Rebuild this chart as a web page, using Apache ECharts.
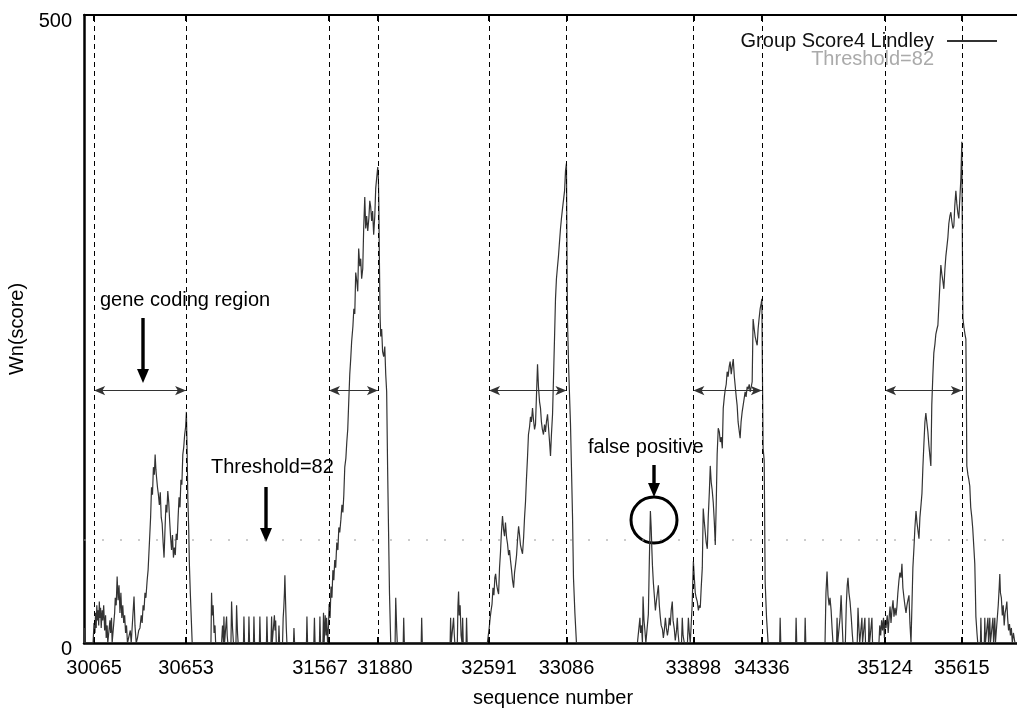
<!DOCTYPE html>
<html>
<head>
<meta charset="utf-8">
<script src="https://cdn.jsdelivr.net/npm/echarts@6/dist/echarts.min.js"></script>
<style>
  html, body { margin: 0; padding: 0; background: #fff; }
  #main { width: 1017px; height: 709px; }
</style>
</head>
<body>
<div id="main"></div>
<script>
// tick positions on the sequence axis (start / end of each coding region)
const tickSeq = [30065, 30653, 31567, 31880, 32591, 33086, 33898, 34336, 35124, 35615];
const threshold = 82;
const arrowLevel = 201;

// Lindley score trace
const trace1 = [[30000,0],[30004,12],[30008,0],[30058,0],[30064,16],[30070,8],[30074,24],[30078,12],[30082,30],[30086,18],[30090,26],[30094,14],[30098,33],[30102,20],[30106,28],[30110,12],[30116,26],[30120,18],[30126,30],[30132,10],[30138,22],[30142,4],[30148,14],[30152,0],[30160,0],[30166,18],[30170,8],[30176,20],[30180,0],[30190,0],[30196,24],[30200,36],[30206,30],[30212,53],[30218,34],[30224,46],[30230,24],[30236,40],[30242,20],[30248,30],[30254,16],[30260,22],[30266,8],[30272,14],[30278,0],[30290,0],[30296,10],[30302,0],[30314,0],[30320,37],[30326,14],[30334,0],[30342,4],[30350,10],[30358,12],[30366,22],[30372,16],[30378,30],[30384,26],[30390,40],[30396,36],[30404,50],[30410,58],[30416,57],[30420,84],[30426,100],[30432,124],[30438,118],[30444,140],[30450,134],[30455,150],[30460,138],[30464,132],[30470,124],[30476,118],[30482,110],[30488,120],[30494,100],[30500,95],[30506,80],[30512,68],[30518,90],[30524,110],[30530,104],[30536,121],[30542,112],[30548,97],[30554,84],[30560,74],[30566,86],[30572,68],[30578,76],[30584,70],[30590,87],[30596,82],[30602,100],[30608,116],[30614,108],[30620,130],[30626,126],[30632,150],[30638,156],[30644,166],[30650,172],[30655,184],[30660,150],[30664,116],[30670,90],[30674,63],[30680,40],[30686,20],[30692,0]];
const trace2 = [[30760,0],[30812,0],[30816,40],[30820,22],[30826,30],[30832,8],[30838,14],[30842,0],[30880,0],[30886,14],[30892,0],[30895,21],[30899,0],[30908,0],[30912,21],[30916,6],[30920,0],[30940,0],[30944,33],[30950,12],[30956,0],[30972,0],[30976,30],[30982,8],[30986,0],[31020,0],[31023,21],[31027,0],[31052,0],[31055,21],[31059,0],[31084,0],[31087,21],[31091,0],[31122,0],[31125,21],[31129,0],[31167,0],[31170,21],[31174,0],[31196,0],[31200,21],[31204,0],[31215,0],[31218,22],[31222,10],[31226,18],[31230,0],[31244,0],[31247,14],[31251,0],[31270,0],[31274,20],[31278,28],[31282,40],[31285,54],[31290,30],[31294,12],[31298,0],[31340,0],[31343,12],[31347,0],[31423,0],[31426,21],[31430,0],[31470,0],[31474,20],[31478,0],[31506,0],[31509,21],[31513,0],[31520,0]];
const trace3 = [[31528,0],[31532,24],[31536,0],[31540,0],[31543,22],[31548,6],[31552,20],[31558,0],[31564,14],[31568,31],[31574,20],[31580,45],[31586,36],[31592,58],[31598,50],[31604,66],[31610,60],[31617,80],[31624,74],[31630,92],[31636,88],[31643,98],[31650,110],[31656,104],[31662,118],[31668,140],[31675,147],[31681,160],[31687,170],[31694,194],[31700,214],[31706,226],[31712,240],[31720,252],[31726,266],[31732,262],[31738,295],[31745,288],[31751,280],[31757,314],[31764,300],[31770,306],[31776,290],[31783,298],[31789,330],[31796,355],[31802,330],[31808,340],[31815,328],[31822,338],[31828,352],[31834,347],[31840,336],[31846,344],[31853,325],[31860,340],[31866,362],[31872,370],[31879,379],[31883,370],[31886,349],[31890,300],[31894,260],[31898,244],[31904,250],[31910,232],[31917,228],[31924,236],[31930,214],[31936,200],[31942,140],[31948,90],[31954,40],[31962,0]];
const trace4 = [[31990,0],[31994,36],[32000,12],[32004,0],[32042,0],[32045,20],[32049,0],[32157,0],[32160,20],[32164,0],[32342,0],[32345,20],[32349,0],[32360,0],[32364,20],[32368,8],[32372,0],[32388,0],[32392,30],[32396,41],[32400,22],[32406,30],[32412,6],[32418,0],[32422,20],[32426,0],[32444,0],[32447,20],[32451,0],[32580,0]];
const trace5 = [[32586,0],[32592,12],[32598,20],[32604,26],[32610,31],[32616,44],[32622,38],[32628,52],[32633,55],[32640,46],[32646,42],[32652,39],[32658,60],[32664,72],[32670,88],[32677,101],[32684,90],[32690,85],[32696,96],[32703,84],[32709,79],[32716,70],[32722,74],[32728,66],[32735,58],[32741,50],[32748,44],[32754,56],[32760,62],[32767,70],[32774,84],[32780,93],[32786,86],[32792,78],[32799,74],[32805,71],[32812,84],[32818,100],[32824,112],[32830,130],[32837,148],[32843,166],[32850,172],[32856,180],[32862,176],[32869,187],[32875,178],[32882,170],[32888,174],[32894,196],[32901,222],[32907,204],[32914,192],[32920,187],[32926,176],[32932,170],[32939,166],[32946,174],[32952,168],[32958,176],[32965,182],[32971,172],[32978,160],[32984,149],[32990,166],[32997,182],[33003,210],[33010,244],[33016,274],[33022,290],[33029,300],[33035,308],[33042,320],[33048,330],[33054,338],[33061,346],[33067,345],[33074,360],[33080,376],[33086,382],[33090,300],[33093,255],[33100,220],[33106,196],[33112,174],[33118,140],[33125,100],[33131,52],[33140,24],[33150,0],[33540,0]];
const trace6 = [[33552,0],[33556,20],[33560,8],[33566,14],[33572,0],[33576,37],[33582,18],[33588,10],[33594,0],[33604,0],[33610,23],[33616,64],[33620,88],[33623,105],[33628,92],[33632,76],[33636,62],[33642,48],[33648,38],[33655,26],[33662,34],[33668,40],[33674,46],[33680,30],[33686,21],[33692,14],[33700,11],[33706,4],[33712,10],[33719,20],[33725,12],[33732,6],[33738,11],[33744,20],[33750,14],[33756,26],[33763,33],[33768,18],[33776,11],[33782,2],[33790,10],[33795,20],[33800,8],[33806,0],[33822,0],[33827,20],[33832,6],[33840,0],[33860,0],[33866,20],[33872,8],[33878,0],[33886,0]];
const trace7 = [[33890,30],[33894,48],[33898,65],[33904,52],[33910,40],[33916,36],[33923,33],[33930,26],[33936,30],[33942,28],[33948,44],[33955,60],[33961,107],[33968,96],[33974,88],[33980,80],[33987,75],[33993,100],[34000,120],[34006,141],[34012,128],[34018,122],[34025,112],[34032,96],[34038,78],[34044,110],[34050,150],[34057,171],[34064,168],[34070,160],[34076,164],[34083,155],[34089,187],[34096,196],[34102,202],[34108,206],[34114,216],[34120,212],[34127,220],[34133,224],[34140,214],[34146,220],[34153,226],[34160,212],[34166,204],[34172,196],[34178,189],[34184,176],[34190,170],[34197,163],[34203,176],[34210,184],[34216,189],[34222,194],[34229,200],[34235,196],[34242,204],[34248,202],[34255,206],[34261,200],[34268,204],[34274,208],[34280,258],[34287,250],[34293,244],[34300,240],[34306,237],[34312,250],[34318,258],[34325,266],[34331,270],[34336,274],[34340,210],[34344,155],[34351,145],[34357,49],[34366,20],[34376,0]];
const trace8 = [[34450,0],[34453,20],[34457,0],[34552,0],[34555,20],[34559,0],[34610,0],[34613,20],[34617,0],[34740,0],[34746,40],[34753,57],[34759,38],[34766,30],[34772,36],[34779,26],[34785,12],[34791,0],[34814,0],[34817,20],[34821,0],[34830,0],[34836,20],[34843,38],[34849,18],[34855,0],[34870,0],[34876,30],[34882,46],[34887,52],[34893,40],[34900,33],[34908,20],[34914,8],[34919,0],[34946,0],[34951,28],[34956,14],[34962,0],[34973,0],[34976,20],[34980,0],[34992,0],[34995,20],[34999,0],[35018,0],[35021,20],[35025,0],[35037,0],[35040,20],[35044,0],[35085,0]];
const trace9 = [[35090,14],[35096,6],[35102,18],[35108,10],[35114,20],[35120,4],[35124,18],[35130,12],[35138,22],[35144,8],[35150,20],[35156,29],[35162,16],[35168,26],[35175,34],[35181,21],[35188,28],[35194,22],[35200,29],[35206,40],[35213,50],[35219,56],[35226,52],[35232,63],[35238,44],[35245,36],[35251,30],[35258,24],[35264,30],[35270,34],[35277,38],[35283,16],[35290,0],[35296,30],[35302,60],[35309,76],[35315,92],[35322,105],[35328,96],[35334,90],[35341,83],[35347,100],[35354,110],[35360,119],[35366,140],[35373,160],[35379,176],[35385,183],[35391,176],[35398,168],[35404,158],[35410,150],[35417,141],[35423,190],[35430,214],[35436,231],[35443,238],[35449,246],[35456,250],[35462,253],[35468,268],[35475,286],[35481,301],[35487,294],[35494,288],[35500,282],[35507,298],[35513,308],[35520,316],[35526,323],[35532,334],[35539,340],[35545,343],[35551,336],[35558,330],[35564,332],[35570,348],[35577,360],[35583,350],[35590,342],[35596,338],[35603,337],[35609,370],[35615,399],[35618,330],[35622,259],[35628,252],[35635,246],[35641,242],[35644,200],[35647,141],[35654,134],[35660,130],[35666,125],[35672,108],[35679,100],[35685,91],[35692,76],[35698,63],[35702,40],[35705,21],[35712,8],[35717,0]];
const trace10 = [[35734,0],[35737,20],[35741,0],[35759,0],[35762,20],[35766,0],[35778,0],[35782,20],[35786,0],[35791,0],[35794,20],[35798,0],[35810,0],[35814,20],[35818,0],[35823,0],[35826,20],[35830,0],[35842,0],[35848,30],[35854,44],[35858,55],[35862,40],[35868,36],[35874,22],[35880,30],[35886,14],[35892,24],[35898,28],[35903,33],[35908,20],[35914,10],[35920,15],[35926,6],[35932,12],[35938,0],[35945,8],[35955,0],[35990,0]];

const xMin = 30000, xMax = 36000;
const scoreData = [].concat(trace1, trace2, trace3, trace4, trace5, trace6, trace7, trace8, trace9, trace10);

// coding regions = consecutive pairs of ticks
const codingRegions = [];
for (let i = 0; i < tickSeq.length; i += 2) {
  codingRegions.push([tickSeq[i], tickSeq[i + 1]]);
}

const FONT = '"Liberation Sans", Arial, sans-serif';
const FS = 20;

// the two crowded labels are nudged apart, as in the original
function tickLabel(v) {
  if (v === 31567) return '{l|' + v + '}';
  if (v === 31880) return '{r|' + v + '}';
  return String(v);
}

function arrowDown(x, y1, y2) {
  return [
    { type: 'rect', shape: { x: x - 1.7, y: y1, width: 3.4, height: y2 - y1 - 12 }, style: { fill: '#000' } },
    { type: 'polygon', shape: { points: [[x - 6, y2 - 14], [x + 6, y2 - 14], [x, y2]] }, style: { fill: '#000' } }
  ];
}

const chart = echarts.init(document.getElementById('main'));

chart.setOption({
  animation: false,
  backgroundColor: '#fff',
  textStyle: { fontFamily: FONT },
  grid: { left: 84, top: 15, width: 938, bottom: 66, containLabel: false, outerBoundsMode: 'none' },
  legend: {
    right: 19,
    top: 31,
    padding: 0,
    orient: 'vertical',
    align: 'right',
    itemWidth: 50,
    itemHeight: 12,
    itemGap: -2,
    itemStyle: { opacity: 0 },
    textStyle: { fontSize: FS, lineHeight: 18, fontFamily: FONT, padding: [0, 8, 0, 0] },
    data: [
      { name: 'Group Score4 Lindley', textStyle: { color: '#111' } },
      { name: 'Threshold=82', textStyle: { color: '#aaa' }, lineStyle: { opacity: 0 } }
    ]
  },
  xAxis: [
    {
      type: 'value',
      min: xMin,
      max: xMax,
      name: 'sequence number',
      nameLocation: 'middle',
      nameGap: 45,
      nameTextStyle: { fontSize: FS, color: '#000', fontFamily: FONT },
      axisLine: { lineStyle: { color: '#000', width: 2.5 } },
      axisTick: { inside: true, length: 6, customValues: tickSeq, lineStyle: { color: '#000', width: 2 } },
      axisLabel: {
        customValues: tickSeq, fontSize: FS, color: '#000', margin: 15, formatter: tickLabel,
        rich: {
          l: { fontSize: FS, fontFamily: FONT, color: '#000', padding: [0, 18, 0, 0] },
          r: { fontSize: FS, fontFamily: FONT, color: '#000', padding: [0, 0, 0, 14] }
        }
      },
      splitLine: { show: false }
    },
    {
      type: 'value',
      position: 'top',
      min: xMin,
      max: xMax,
      axisLine: { lineStyle: { color: '#000', width: 2 } },
      axisTick: { inside: true, length: 6, customValues: tickSeq, lineStyle: { color: '#000', width: 2 } },
      axisLabel: { show: false },
      splitLine: { show: false }
    }
  ],
  yAxis: {
    type: 'value',
    min: 0,
    max: 500,
    interval: 500,
    name: 'Wn(score)',
    nameLocation: 'middle',
    nameGap: 56,
    nameTextStyle: { fontSize: FS, color: '#000', fontFamily: FONT },
    axisLine: { show: true, lineStyle: { color: '#000', width: 2.5 } },
    axisTick: { show: false },
    axisLabel: { fontSize: FS, color: '#000', margin: 12, verticalAlign: 'top', lineHeight: 12 },
    splitLine: { show: false }
  },
  series: [
    {
      name: 'Threshold=82',
      type: 'line',
      symbol: 'none',
      silent: true,
      data: [[xMin, threshold], [xMax, threshold]],
      itemStyle: { color: '#aaa' },
      lineStyle: { color: '#999', width: 1, type: [2, 16] },
      markLine: {
        silent: true,
        symbol: ['arrow', 'arrow'],
        symbolSize: [7, 11],
        label: { show: false },
        lineStyle: { color: '#333', width: 1, type: 'solid' },
        data: codingRegions.map(([a, b]) => [{ coord: [a, arrowLevel] }, { coord: [b, arrowLevel] }])
      }
    },
    {
      name: 'Group Score4 Lindley',
      type: 'line',
      symbol: 'none',
      silent: true,
      data: scoreData,
      itemStyle: { color: '#555' },
      lineStyle: { color: '#333', width: 1.2 },
      markLine: {
        silent: true,
        symbol: 'none',
        label: { show: false },
        lineStyle: { color: '#000', width: 1, type: [5, 4] },
        data: tickSeq.map(v => ({ xAxis: v }))
      }
    }
  ],
  graphic: [
    { type: 'text', x: 100, y: 300, style: { text: 'gene coding region', fontSize: FS, fontFamily: FONT, fill: '#000', verticalAlign: 'middle' } },
    { type: 'text', x: 211, y: 467, style: { text: 'Threshold=82', fontSize: FS, fontFamily: FONT, fill: '#000', verticalAlign: 'middle' } },
    { type: 'text', x: 588, y: 447, style: { text: 'false positive', fontSize: FS, fontFamily: FONT, fill: '#000', verticalAlign: 'middle' } },
    ...arrowDown(143, 318, 383),
    ...arrowDown(266, 487, 542),
    ...arrowDown(654, 465, 497),
    { type: 'circle', shape: { cx: 654, cy: 520, r: 23 }, style: { fill: 'none', stroke: '#000', lineWidth: 3 } }
  ]
});
</script>
</body>
</html>
